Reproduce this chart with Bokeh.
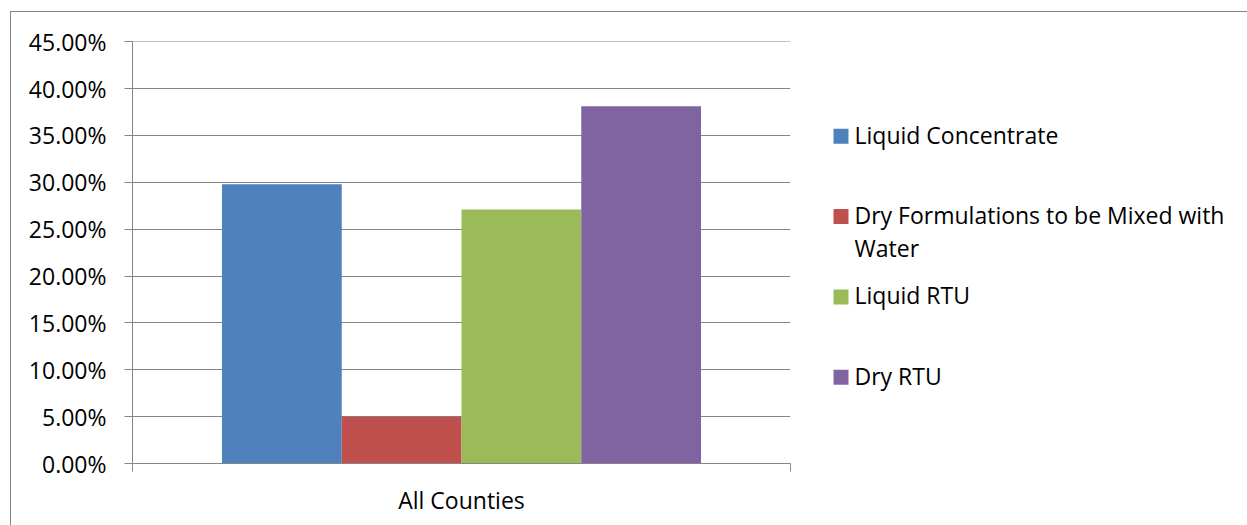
from bokeh.plotting import figure
from bokeh.layouts import row
from bokeh.models import ColumnDataSource, Range1d, FixedTicker, NumeralTickFormatter
from bokeh.core.properties import value
from bokeh.embed import file_html
from bokeh.resources import INLINE

# Share of product types, all counties combined
categories = ["All Counties"]
series = ["Liquid Concentrate", "Dry Formulations to be Mixed with Water", "Liquid RTU", "Dry RTU"]
values = [0.298, 0.050, 0.271, 0.381]
colors = ["#4F81BD", "#C0504D", "#9BBB59", "#8064A2"]
y_ticks = [0.00, 0.05, 0.10, 0.15, 0.20, 0.25, 0.30, 0.35, 0.40, 0.45]
# legend entries wrapped onto lines
legend_lines = [["Liquid Concentrate"], ["Dry Formulations to be Mixed with", "Water"],
                ["Liquid RTU"], ["Dry RTU"]]

FONT = "Open Sans"
GRAY = "#868686"

W, H = 1247, 525
OX, OY = 11, 12             # where the chart content starts inside the bordered box
SPLIT = 800                  # x where the legend panel begins
LEFT, RIGHT, TOP, BOTTOM = 132, 790, 41, 463

main_w = SPLIT - OX
main_h = H - OY
p = figure(width=main_w, height=main_h, output_backend="svg", toolbar_location=None,
           x_range=Range1d(0, len(categories)), y_range=Range1d(0, y_ticks[-1] * 1.0004),
           min_border_left=LEFT - OX, min_border_right=SPLIT - RIGHT,
           min_border_top=TOP - OY, min_border_bottom=H - BOTTOM)
p.outline_line_color = None
p.background_fill_color = "white"
p.border_fill_color = "white"

# bars, dodged around the category centre
bar_w = 0.182
n = len(series)
centers = [i + 0.5 for i in range(len(categories))]
for k, (v, c) in enumerate(zip(values, colors)):
    xs = [cx + (k - (n - 1) / 2) * bar_w for cx in centers]
    src = ColumnDataSource(dict(x=xs, top=[v] * len(xs)))
    p.vbar(x="x", top="top", bottom=0, width=bar_w, source=src,
           fill_color=c, line_color=None)

# y axis
p.yaxis.ticker = FixedTicker(ticks=y_ticks)
p.yaxis.formatter = NumeralTickFormatter(format="0.00%")
p.yaxis.axis_line_color = GRAY
p.yaxis.major_tick_line_color = GRAY
p.yaxis.major_tick_out = 8
p.yaxis.major_tick_in = 0
p.yaxis.minor_tick_line_color = None
p.yaxis.major_label_standoff = 18
p.yaxis.major_label_text_font = FONT
p.yaxis.major_label_text_font_size = "23px"
p.yaxis.major_label_text_color = "black"

# x axis: category label at centre, boundary ticks between categories
p.xaxis.ticker = FixedTicker(ticks=centers, minor_ticks=list(range(len(categories) + 1)))
p.xaxis.major_label_overrides = {c: cat for c, cat in zip(centers, categories)}
p.xaxis.axis_line_color = GRAY
p.xaxis.major_tick_line_color = None
p.xaxis.major_tick_out = 8
p.xaxis.major_tick_in = 0
p.xaxis.minor_tick_line_color = GRAY
p.xaxis.minor_tick_out = 8
p.xaxis.minor_tick_in = 0
p.xaxis.major_label_standoff = 12
p.xaxis.major_label_text_font = FONT
p.xaxis.major_label_text_font_size = "23px"
p.xaxis.major_label_text_color = "black"

p.xgrid.grid_line_color = None
p.ygrid.grid_line_color = GRAY
p.ygrid.grid_line_width = 1
p.ygrid.ticker = FixedTicker(ticks=y_ticks)

# legend panel; its frame lines up with the main frame, coordinates are window pixels
lg = figure(width=W - SPLIT, height=main_h, output_backend="svg", toolbar_location=None,
            x_range=Range1d(SPLIT, W), y_range=Range1d(BOTTOM, TOP),
            min_border_left=0, min_border_right=0,
            min_border_top=TOP - OY, min_border_bottom=H - BOTTOM,
            x_axis_type=None, y_axis_type=None)
lg.outline_line_color = None
lg.grid.visible = False
lg.background_fill_color = "white"
lg.border_fill_color = "white"

first_y, step, line_h = 135.3, 80.3, 33
sq_x, sq = 840.5, 15
txt_x = 854
sq_src = ColumnDataSource(dict(x=[sq_x] * n, y=[first_y + 0.5 + k * step for k in range(n)], color=colors))
lg.rect(x="x", y="y", width=sq, height=sq, fill_color="color", line_color=None, source=sq_src)

tx, ty, tt = [], [], []
for k, lines in enumerate(legend_lines):
    for j, line in enumerate(lines):
        tx.append(txt_x)
        ty.append(first_y - 1 + k * step + j * line_h)
        tt.append(line)
lg.text(x=tx, y=ty, text=tt, text_font=value(FONT), text_font_size="23px",
        text_color="black", text_baseline="middle", text_align="left")

layout = row(p, lg, margin=(11, 0, 0, 10),
             styles={"border-top": f"1px solid {GRAY}", "border-left": f"1px solid {GRAY}"})

open("out.html", "w").write(file_html(layout, INLINE))
